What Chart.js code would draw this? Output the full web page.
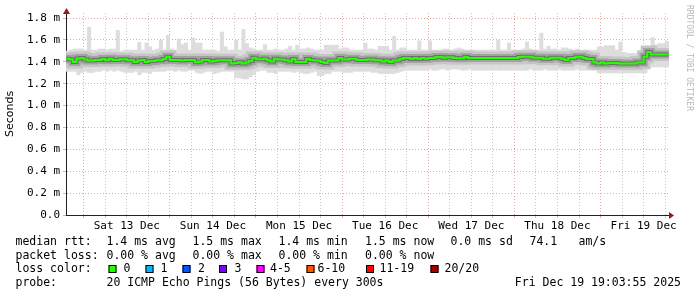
<!DOCTYPE html>
<html>
<head>
<meta charset="utf-8">
<script src="https://cdn.jsdelivr.net/npm/chart.js@4/dist/chart.umd.min.js"></script>
<style>
  html, body { margin: 0; padding: 0; background: #fff; }
  canvas { display: block; }
</style>
</head>
<body>
<canvas id="smokeChart" width="697" height="297"></canvas>
<script>
// time axis in hours relative to Sat 13 Dec 00:00
const startHour = -4.93;   // Fri 12 Dec 19:04
const endHour = 163.07;    // Fri 19 Dec 19:04
const firstBinHour = -5;   // one bin per hour

const dayLabels = ['Sat 13 Dec', 'Sun 14 Dec', 'Mon 15 Dec', 'Tue 16 Dec', 'Wed 17 Dec', 'Thu 18 Dec', 'Fri 19 Dec'];
const yTicks = [0, 0.1, 0.2, 0.3, 0.4, 0.5, 0.6, 0.7, 0.8, 0.9, 1.0, 1.1, 1.2, 1.3, 1.4, 1.5, 1.6, 1.7, 1.8];

// median rtt (ms) per hour
const median = [
  1.423, 1.429, 1.420, 1.399, 1.430, 1.435, 1.420, 1.411, 1.411, 1.417, 1.417, 1.426,
  1.414, 1.429, 1.417, 1.417, 1.423, 1.423, 1.414, 1.414, 1.399, 1.411, 1.417, 1.399,
  1.408, 1.408, 1.414, 1.414, 1.426, 1.447, 1.417, 1.417, 1.417, 1.411, 1.417, 1.417,
  1.417, 1.396, 1.402, 1.417, 1.417, 1.402, 1.408, 1.414, 1.414, 1.414, 1.414, 1.384,
  1.390, 1.396, 1.384, 1.393, 1.408, 1.438, 1.423, 1.423, 1.429, 1.414, 1.402, 1.429,
  1.420, 1.420, 1.414, 1.402, 1.426, 1.399, 1.399, 1.399, 1.426, 1.417, 1.411, 1.411,
  1.399, 1.390, 1.411, 1.411, 1.411, 1.435, 1.420, 1.420, 1.429, 1.429, 1.417, 1.417,
  1.417, 1.420, 1.420, 1.414, 1.414, 1.402, 1.411, 1.399, 1.411, 1.411, 1.426, 1.435,
  1.435, 1.426, 1.435, 1.426, 1.435, 1.429, 1.435, 1.435, 1.445, 1.445, 1.438, 1.441,
  1.441, 1.435, 1.432, 1.432, 1.445, 1.435, 1.435, 1.435, 1.435, 1.435, 1.435, 1.435,
  1.435, 1.435, 1.435, 1.435, 1.435, 1.435, 1.435, 1.445, 1.447, 1.447, 1.447, 1.438,
  1.438, 1.438, 1.429, 1.429, 1.438, 1.438, 1.438, 1.429, 1.417, 1.435, 1.435, 1.447,
  1.447, 1.435, 1.426, 1.426, 1.393, 1.384, 1.393, 1.384, 1.390, 1.390, 1.390, 1.384,
  1.384, 1.384, 1.384, 1.384, 1.393, 1.393, 1.447, 1.490, 1.466, 1.466, 1.466, 1.466
];

// slowest ping per hour (top of smoke)
const rttMax = [
  1.50, 1.51, 1.52, 1.52, 1.52, 1.51, 1.72, 1.51, 1.51, 1.52, 1.52, 1.51,
  1.52, 1.52, 1.69, 1.50, 1.51, 1.51, 1.51, 1.51, 1.58, 1.51, 1.575, 1.54,
  1.51, 1.52, 1.60, 1.51, 1.645, 1.52, 1.51, 1.61, 1.56, 1.575, 1.51, 1.62,
  1.575, 1.575, 1.51, 1.51, 1.51, 1.51, 1.50, 1.675, 1.54, 1.51, 1.51, 1.60,
  1.51, 1.70, 1.57, 1.53, 1.52, 1.51, 1.51, 1.56, 1.51, 1.51, 1.52, 1.51,
  1.51, 1.52, 1.545, 1.51, 1.555, 1.52, 1.52, 1.53, 1.52, 1.51, 1.51, 1.51,
  1.555, 1.555, 1.555, 1.555, 1.52, 1.53, 1.53, 1.51, 1.51, 1.51, 1.51, 1.575,
  1.52, 1.52, 1.51, 1.545, 1.545, 1.545, 1.51, 1.635, 1.51, 1.53, 1.53, 1.51,
  1.51, 1.51, 1.595, 1.51, 1.51, 1.595, 1.51, 1.51, 1.51, 1.52, 1.52, 1.51,
  1.52, 1.53, 1.52, 1.51, 1.51, 1.51, 1.51, 1.51, 1.51, 1.51, 1.51, 1.51,
  1.60, 1.51, 1.51, 1.575, 1.51, 1.51, 1.51, 1.52, 1.585, 1.52, 1.51, 1.51,
  1.665, 1.52, 1.545, 1.52, 1.52, 1.51, 1.53, 1.53, 1.52, 1.51, 1.52, 1.51,
  1.51, 1.51, 1.51, 1.51, 1.54, 1.54, 1.55, 1.55, 1.55, 1.51, 1.585, 1.49,
  1.48, 1.48, 1.48, 1.48, 1.48, 1.48, 1.50, 1.625, 1.56, 1.57, 1.57, 1.59
];

// fastest ping per hour (bottom of smoke)
const rttMin = [
  1.31, 1.31, 1.31, 1.28, 1.30, 1.31, 1.30, 1.30, 1.31, 1.31, 1.32, 1.31,
  1.32, 1.31, 1.32, 1.31, 1.30, 1.30, 1.30, 1.31, 1.28, 1.30, 1.30, 1.29,
  1.31, 1.31, 1.31, 1.31, 1.32, 1.32, 1.31, 1.32, 1.31, 1.31, 1.32, 1.32,
  1.30, 1.29, 1.30, 1.31, 1.31, 1.29, 1.30, 1.31, 1.31, 1.31, 1.31, 1.25,
  1.25, 1.24, 1.24, 1.26, 1.28, 1.31, 1.32, 1.32, 1.30, 1.30, 1.29, 1.31,
  1.31, 1.31, 1.31, 1.30, 1.31, 1.30, 1.29, 1.29, 1.30, 1.31, 1.27, 1.27,
  1.29, 1.29, 1.31, 1.31, 1.31, 1.30, 1.30, 1.30, 1.31, 1.31, 1.31, 1.31,
  1.31, 1.30, 1.30, 1.29, 1.29, 1.29, 1.29, 1.29, 1.30, 1.31, 1.32, 1.32,
  1.32, 1.32, 1.32, 1.32, 1.32, 1.33, 1.32, 1.32, 1.33, 1.33, 1.32, 1.33,
  1.33, 1.33, 1.32, 1.32, 1.33, 1.32, 1.32, 1.32, 1.32, 1.32, 1.32, 1.32,
  1.32, 1.32, 1.32, 1.32, 1.32, 1.32, 1.32, 1.32, 1.32, 1.33, 1.32, 1.32,
  1.32, 1.33, 1.32, 1.32, 1.32, 1.33, 1.32, 1.32, 1.32, 1.32, 1.33, 1.32,
  1.32, 1.32, 1.32, 1.32, 1.295, 1.295, 1.295, 1.295, 1.295, 1.295, 1.295, 1.295,
  1.295, 1.295, 1.295, 1.295, 1.295, 1.295, 1.33, 1.35, 1.35, 1.35, 1.35, 1.35
];

// legend
const rttStats = ['1.4 ms avg', '1.5 ms max', '1.4 ms min', '1.5 ms now', '0.0 ms sd'];
const lossStats = ['0.00 % avg', '0.00 % max', '0.00 % min', '0.00 % now'];
const lossLabels = ['0', '1', '2', '3', '4-5', '6-10', '11-19', '20/20'];
const lossColors = ['#26ff00', '#00b8ff', '#0059ff', '#7e00ff', '#ff00ff', '#ff5500', '#ff0000', '#a10000'];

const smokeData = rttMin.map((lo, i) => ({ x: firstBinHour + i + 0.5, y: [lo, rttMax[i]] }));
const medianSteps = median.map((v, i) => ({ x: firstBinHour + i, y: v }));
medianSteps.push({ x: firstBinHour + median.length, y: median[median.length - 1] });

const MONO = '"DejaVu Sans Mono", monospace';
const majorGrid = '#eba6a6';
const minorGrid = '#c6c6c6';

function medianLine(color, width, order) {
  return {
    type: 'line',
    data: medianSteps,
    borderColor: color,
    borderWidth: width,
    stepped: 'after',
    pointRadius: 0,
    borderCapStyle: 'butt',
    borderJoinStyle: 'miter',
    clip: 0,
    order: order
  };
}

const extras = {
  id: 'extras',
  afterDraw(chart) {
    const ctx = chart.ctx;
    const { left, right, top, bottom } = chart.chartArea;
    ctx.save();

    // axis arrows
    ctx.fillStyle = '#8e1a1a';
    ctx.beginPath();
    ctx.moveTo(left - 3, top + 1);
    ctx.lineTo(left + 0.5, top - 5);
    ctx.lineTo(left + 4, top + 1);
    ctx.fill();
    ctx.beginPath();
    ctx.moveTo(right, bottom - 3);
    ctx.lineTo(right + 5, bottom + 0.5);
    ctx.lineTo(right, bottom + 4);
    ctx.fill();

    // watermark
    ctx.save();
    ctx.translate(689, 5);
    ctx.rotate(Math.PI / 2);
    ctx.font = '8px ' + MONO;
    ctx.fillStyle = '#b8b8b8';
    ctx.textBaseline = 'middle';
    ctx.fillText('RRDTOOL / TOBI OETIKER', 0, 0);
    ctx.restore();

    // legend lines
    ctx.font = '11.5px ' + MONO;
    ctx.fillStyle = '#000';
    ctx.textBaseline = 'alphabetic';
    const statX = [106.5, 192.5, 278.5, 365, 450.5];
    ctx.fillText('median rtt:', 15.5, 245);
    rttStats.forEach((s, i) => ctx.fillText(s, statX[i], 245));
    ctx.fillText('74.1', 529.5, 245);
    ctx.fillText('am/s', 578.5, 245);

    ctx.fillText('packet loss:', 15.5, 258.7);
    lossStats.forEach((s, i) => ctx.fillText(s, statX[i], 258.7));

    ctx.fillText('loss color:', 15.5, 272.4);
    const boxX = [108.5, 145.5, 182.5, 219, 256.5, 306.5, 366, 430.5];
    const labX = [123.5, 160.5, 198, 234.5, 270, 317.5, 379.5, 444.5];
    lossLabels.forEach((lab, i) => {
      ctx.fillStyle = lossColors[i];
      ctx.fillRect(boxX[i], 265, 8, 8);
      ctx.strokeStyle = '#000';
      ctx.lineWidth = 1;
      ctx.strokeRect(boxX[i] + 0.5, 265.5, 7, 7);
      ctx.fillStyle = '#000';
      ctx.fillText(lab, labX[i], 272.4);
    });

    ctx.fillText('probe:', 15.5, 286);
    ctx.fillText('20 ICMP Echo Pings (56 Bytes) every 300s', 106.5, 286);
    ctx.textAlign = 'right';
    ctx.fillText('Fri Dec 19 19:03:55 2025', 681, 286);
    ctx.restore();
  }
};

new Chart(document.getElementById('smokeChart'), {
  type: 'bar',
  data: {
    datasets: [
      medianLine('#26ff00', 2, 0),
      medianLine('#6e6e6e', 4, 1),
      medianLine('#a2a2a2', 8, 2),
      medianLine('#c6c6c6', 13, 3),
      {
        type: 'bar',
        data: smokeData,
        backgroundColor: '#dddddd',
        borderWidth: 0,
        barPercentage: 1.12,
        categoryPercentage: 1,
        clip: 0,
        order: 4
      }
    ]
  },
  options: {
    responsive: false,
    devicePixelRatio: 1,
    animation: false,
    events: [],
    layout: { padding: { top: 13, right: 28, bottom: 0, left: 0 } },
    plugins: { legend: { display: false }, tooltip: { enabled: false } },
    scales: {
      x: {
        type: 'linear',
        min: startHour,
        max: endHour,
        offset: false,
        afterFit: s => { s.height = 82; },
        afterBuildTicks: s => {
          const t = [];
          for (let h = 0; h <= 162; h += 6) t.push({ value: h });
          s.ticks = t;
        },
        grid: {
          offset: false,
          color: c => (c.tick && c.tick.value % 24 === 0) ? majorGrid : minorGrid,
          tickLength: 3
        },
        border: { display: true, color: '#222', width: 1, dash: [1, 2] },
        ticks: {
          autoSkip: false,
          maxRotation: 0,
          minRotation: 0,
          padding: 2,
          color: '#000',
          font: { family: MONO, size: 11 },
          callback: v => (v % 24 === 12) ? dayLabels[(v - 12) / 24] : ''
        }
      },
      y: {
        type: 'linear',
        min: 0,
        max: 1.846,
        afterFit: s => { s.width = 66; },
        afterBuildTicks: s => { s.ticks = yTicks.map(v => ({ value: v })); },
        grid: {
          color: c => (Math.round(c.tick.value * 10) % 2 === 0) ? majorGrid : minorGrid,
          tickLength: 3
        },
        border: { display: true, color: '#222', width: 1, dash: [1, 2] },
        title: {
          display: true,
          text: 'Seconds',
          color: '#000',
          font: { family: '"DejaVu Sans", sans-serif', size: 11 },
          padding: { top: 4, bottom: 0 }
        },
        ticks: {
          padding: 3,
          color: '#000',
          font: { family: MONO, size: 11 },
          callback: v => {
            const k = Math.round(v * 10);
            if (k % 2) return '';
            return k === 0 ? '0.0' : (k / 10).toFixed(1) + ' m';
          }
        }
      }
    }
  },
  plugins: [extras]
});
</script>
</body>
</html>
